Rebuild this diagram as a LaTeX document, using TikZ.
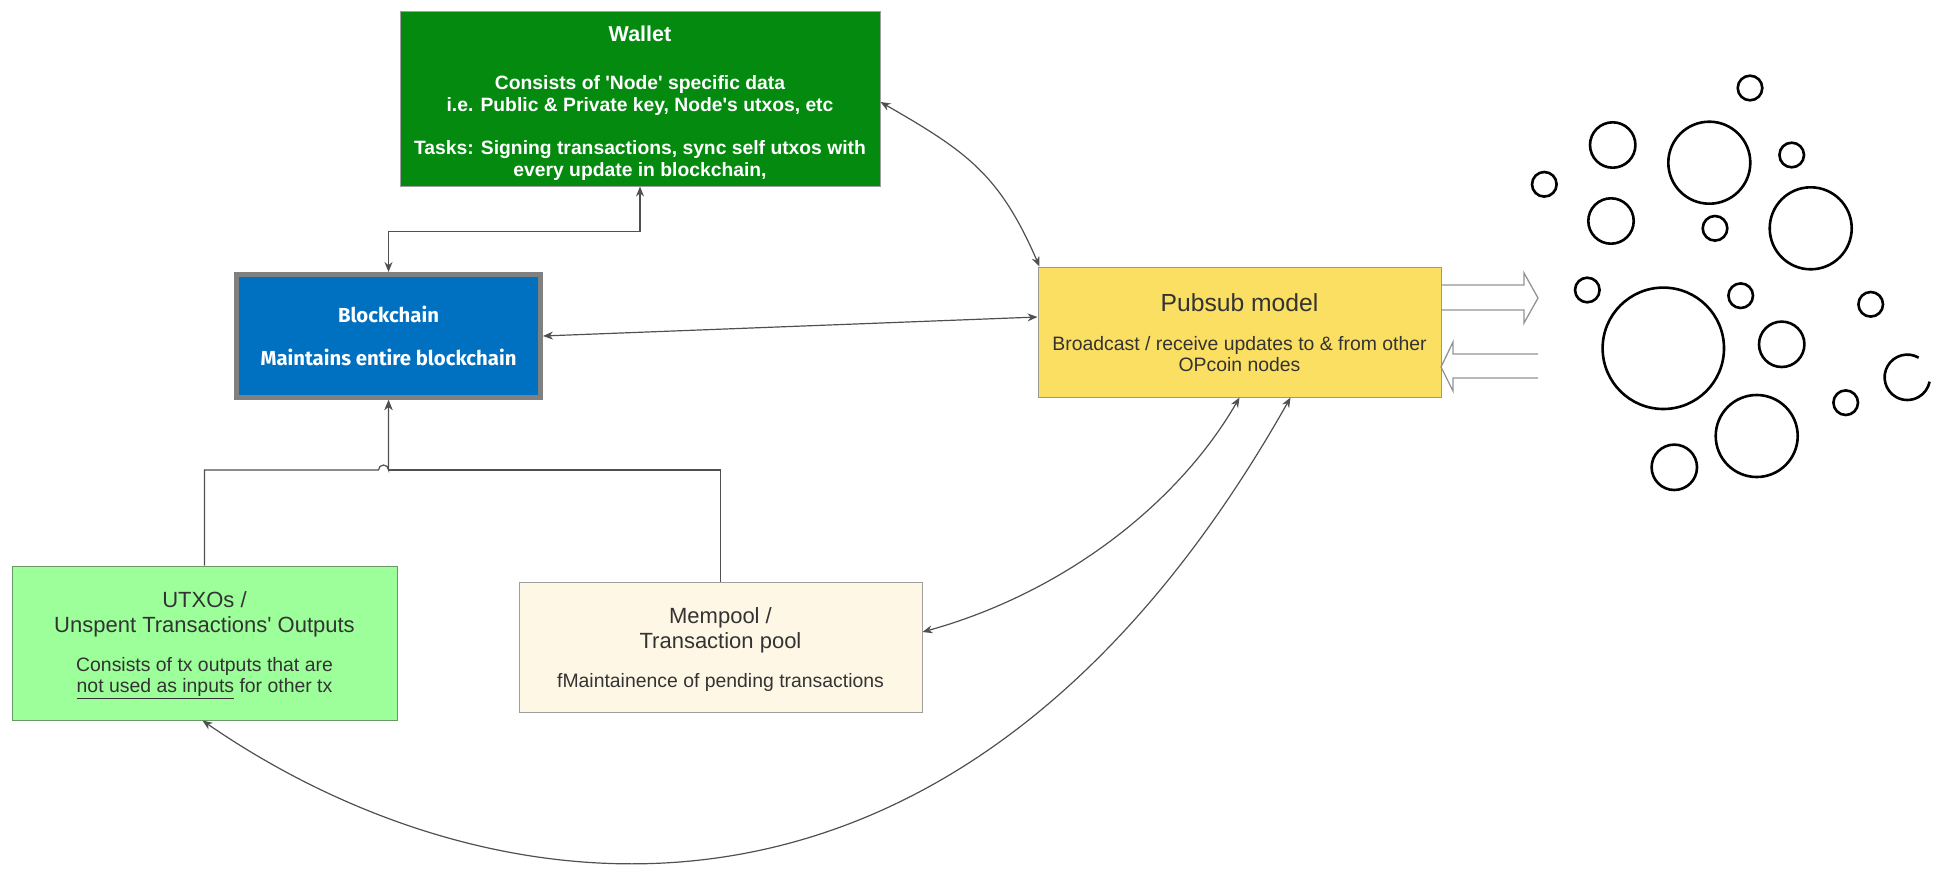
\documentclass[tikz,border=0pt]{standalone}
\usepackage{fontspec}
\setmainfont{Liberation Sans}
\newfontfamily\chainfont{Fira Sans}
\usepackage{tikz}
\usetikzlibrary{arrows.meta}
\definecolor{walletgreen}{HTML}{058A10}
\definecolor{chainblue}{HTML}{0070C0}
\definecolor{pubyellow}{HTML}{FADF63}
\definecolor{utxogreen}{HTML}{9CFF99}
\definecolor{poolcream}{HTML}{FFF7E6}
\definecolor{txtgray}{HTML}{333333}
\definecolor{linkgray}{HTML}{505050}

\begin{document}
\begin{tikzpicture}
    [
    x=1pt,y=-1pt,
    box/.style={rectangle,draw=gray!75,line width=1pt,align=center,inner sep=0pt,text=txtgray,font=\fontsize{19.4}{21}\selectfont},
    link/.style={<->,> = {Stealth[length=10pt,width=8pt]},draw=linkgray,line width=1.2pt},
    fat/.style={draw=gray!85,line width=1.3pt,line join=miter},
    bubble/.style={draw=black,line width=2.6pt}
    ]
\useasboundingbox (0,0) rectangle (1950,880);
\node[box,fill=walletgreen,text=white,font=\bfseries\fontsize{19.3}{21.5}\selectfont,minimum width=480pt,minimum height=174pt] (wallet) at (640,99)
    {\rule{0pt}{23.5pt}{\fontsize{21.5}{21.5}\selectfont Wallet}\\[27pt]
     Consists of \textquotesingle Node\textquotesingle{} specific data\\
     i.e. Public \& Private key, Node\textquotesingle s utxos, etc\\[22pt]
     Tasks: Signing transactions, sync self utxos with\\
     every update in blockchain,};
\node[box,draw=gray,line width=5pt,fill=chainblue,text=white,font=\chainfont\bfseries\fontsize{20.3}{21.5}\selectfont,minimum width=304pt,minimum height=123pt] (chain) at (388.5,336)
    {Blockchain\\[21.5pt] Maintains entire blockchain};
\node[box,draw=gray!90!yellow,fill=pubyellow,minimum width=403pt,minimum height=130pt] (pubsub) at (1239.5,332)
    {\rule{0pt}{20pt}{\fontsize{24.7}{24.7}\selectfont Pubsub model}\\[18pt]
     Broadcast / receive updates to \& from other\\ OPcoin nodes};
\node[box,draw=gray!80!green,fill=utxogreen,minimum width=385pt,minimum height=154pt] (utxo) at (204.5,643)
    {\rule{0pt}{20pt}{\fontsize{22}{22}\selectfont UTXOs /}\\[4pt]
     {\fontsize{22}{22}\selectfont Unspent Transactions\textquotesingle{} Outputs}\\[18pt]
     Consists of tx outputs that are\\ \underline{not used as inputs} for other tx};
\node[box,fill=poolcream,minimum width=403pt,minimum height=130pt] (mempool) at (720.5,647)
    {\rule{0pt}{22pt}{\fontsize{22}{22}\selectfont Mempool /}\\[4pt]
     {\fontsize{22}{22}\selectfont Transaction pool}\\[18pt]
     fMaintainence of pending transactions};
\coordinate (join) at (chain.south |- 0,470);
\draw[link] (wallet.south) -- ++(0,45) -| (chain.north);
\draw[link] (chain.east) -- ([yshift=15pt]pubsub.west);
\draw[link,->] (mempool.north) |- (join) -- (chain.south);
\draw[link,->] (utxo.north) |- ([xshift=-10pt]join) arc[start angle=180,end angle=0,radius=5pt] -- (chain.south);
\draw[link] ([yshift=-3pt]wallet.east) .. controls +(87,50) and +(-40,-92) .. ([xshift=2pt]pubsub.north west);
\draw[link] (pubsub.south) .. controls +(-60,104) and +(144,-40) .. ([yshift=15pt]mempool.east);
\draw[link] ([xshift=51pt]pubsub.south) .. controls +(-340,602) and +(275,190) .. ([xshift=-2pt]utxo.south);
\draw[fat] (1441,285) -- (1524,285) -- (1524,273) -- (1538,298) -- (1524,323) -- (1524,310) -- (1441,310);
\draw[fat] (1538,354) -- (1453,354) -- (1453,342) -- (1441,367) -- (1453,391) -- (1453,378) -- (1538,378);
\foreach \cx/\cy/\r in {1750/88/12.3, 1612.7/145/22.7, 1709.3/162.7/41, 1791.7/155/12.3,
    1544.3/184.3/12.3, 1611/221/22.7, 1715/228.3/12.3, 1810.7/228.3/41, 1587.3/290/12.3,
    1663.3/348.3/60.7, 1740.7/295.7/12.3, 1870.7/304.3/12.3, 1781.7/344.3/22.7,
    1845.7/402.7/12.3, 1756.7/436/41, 1674.3/467.3/22.7}
    \draw[bubble] (\cx,\cy) circle[radius=\r pt];
\draw[bubble] (1907.3,377.3) ++(60:22.7pt) arc[start angle=60,end angle=349,radius=22.7pt];
\end{tikzpicture}
\end{document}
